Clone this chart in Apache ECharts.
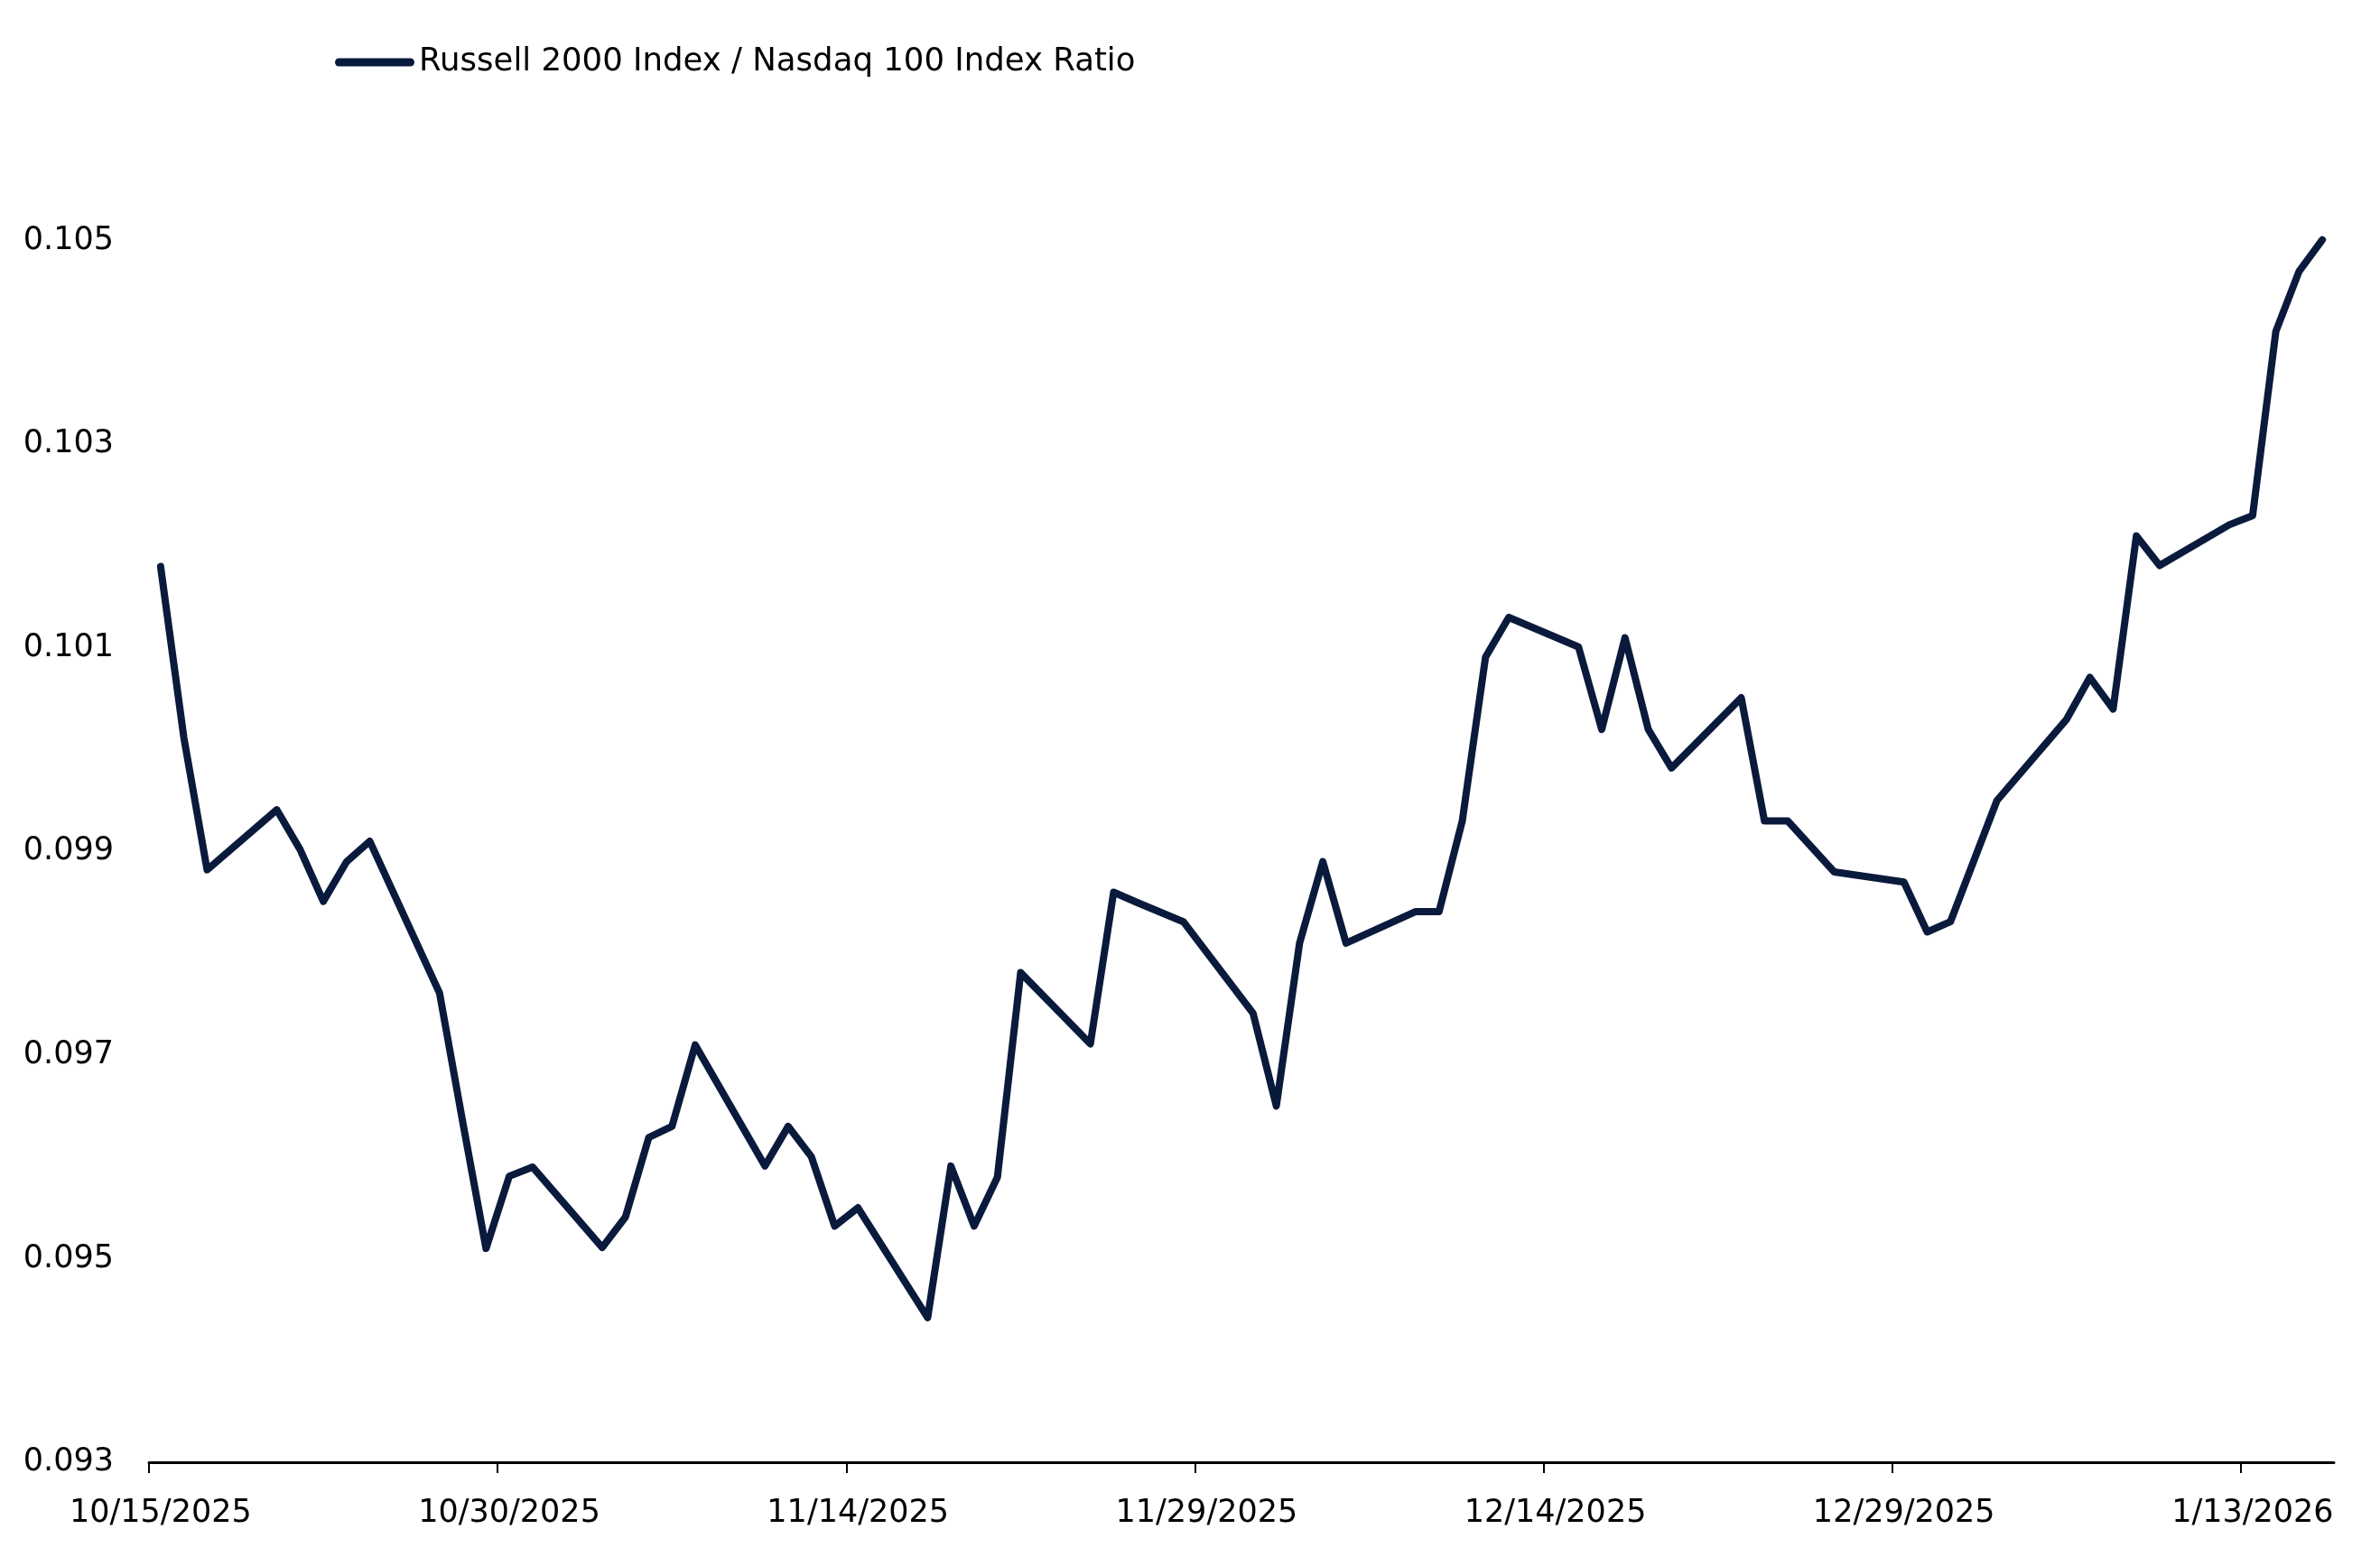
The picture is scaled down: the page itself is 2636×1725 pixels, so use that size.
<!DOCTYPE html>
<html>
<head>
<meta charset="utf-8">
<script src="https://cdn.jsdelivr.net/npm/echarts@6/dist/echarts.min.js"></script>
<style>
  html, body { margin: 0; padding: 0; background: #ffffff; }
  #chart { width: 2636px; height: 1725px; }
</style>
</head>
<body>
<div id="chart"></div>
<script>
// ---- Data ----
const seriesName = 'Russell 2000 Index / Nasdaq 100 Index Ratio';

const dates = [
  '2025-10-15','2025-10-16','2025-10-17','2025-10-20','2025-10-21','2025-10-22','2025-10-23','2025-10-24',
  '2025-10-27','2025-10-28','2025-10-29','2025-10-30','2025-10-31',
  '2025-11-03','2025-11-04','2025-11-05','2025-11-06','2025-11-07',
  '2025-11-10','2025-11-11','2025-11-12','2025-11-13','2025-11-14',
  '2025-11-17','2025-11-18','2025-11-19','2025-11-20','2025-11-21',
  '2025-11-24','2025-11-25','2025-11-26','2025-11-28',
  '2025-12-01','2025-12-02','2025-12-03','2025-12-04','2025-12-05',
  '2025-12-08','2025-12-09','2025-12-10','2025-12-11','2025-12-12',
  '2025-12-15','2025-12-16','2025-12-17','2025-12-18','2025-12-19',
  '2025-12-22','2025-12-23','2025-12-24','2025-12-26',
  '2025-12-29','2025-12-30','2025-12-31','2026-01-02',
  '2026-01-05','2026-01-06','2026-01-07','2026-01-08','2026-01-09',
  '2026-01-12','2026-01-13','2026-01-14','2026-01-15','2026-01-16'
];

const ratio = [
  0.10180, 0.10012, 0.09882, 0.09941, 0.09902, 0.09851, 0.09890, 0.09910,
  0.09761, 0.09634, 0.09510, 0.09581, 0.09590,
  0.09511, 0.09541, 0.09619, 0.09630, 0.09710,
  0.09591, 0.09630, 0.09600, 0.09532, 0.09550,
  0.09442, 0.09591, 0.09532, 0.09580, 0.09781,
  0.09711, 0.09860, 0.09850, 0.09831,
  0.09741, 0.09650, 0.09810, 0.09890, 0.09810,
  0.09841, 0.09841, 0.09930, 0.10091, 0.10130,
  0.10101, 0.10020, 0.10110, 0.10020, 0.09982,
  0.10051, 0.09930, 0.09930, 0.09880,
  0.09870, 0.09821, 0.09831, 0.09950,
  0.10030, 0.10071, 0.10040, 0.10210, 0.10181,
  0.10221, 0.10230, 0.10411, 0.10470, 0.10501
];

const xTickDates = ['2025-10-15','2025-10-30','2025-11-14','2025-11-29','2025-12-14','2025-12-29','2026-01-13'];
const xAxisStart = '2025-10-15';
const xAxisEnd = '2026-01-17';

const yTicks = [0.093, 0.095, 0.097, 0.099, 0.101, 0.103, 0.105];
const yMin = 0.093;
const yMax = 0.106;

// ---- Helpers ----
function parseDay(s, hour) {
  const p = s.split('-').map(Number);
  return new Date(p[0], p[1] - 1, p[2], hour || 0, 0, 0).getTime();
}
function fmtDate(v) {
  const d = new Date(v);
  return (d.getMonth() + 1) + '/' + d.getDate() + '/' + d.getFullYear();
}

const seriesData = dates.map((d, i) => [parseDay(d, 12), ratio[i]]);
const tickValues = xTickDates.map(d => parseDay(d, 0));
const labelValues = xTickDates.map(d => parseDay(d, 12));

const FONT = 'DejaVu Sans';
const TXT = '#000000';
const LINE = '#0a1a3c';

const chart = echarts.init(document.getElementById('chart'), null, { renderer: 'canvas' });
chart.setOption({
  animation: false,
  backgroundColor: '#ffffff',
  textStyle: { fontFamily: FONT },
  legend: {
    show: true,
    left: 366,
    top: 44,
    itemWidth: 88,
    itemHeight: 9,
    itemGap: 20,
    icon: 'path://M4.5,0 L83.5,0 A4.5,4.5 0 0 1 83.5,9 L4.5,9 A4.5,4.5 0 0 1 4.5,0 Z',
    itemStyle: { color: LINE },
    textStyle: { fontFamily: FONT, fontSize: 35.5, color: TXT, lineHeight: 40 },
    data: [seriesName]
  },
  grid: {
    left: 165,
    right: 51,
    top: 154,
    bottom: 105,
    containLabel: false
  },
  xAxis: {
    type: 'value',
    min: parseDay(xAxisStart, 0),
    max: parseDay(xAxisEnd, 0),
    axisLine: { show: true, lineStyle: { color: '#000000', width: 3 } },
    axisTick: {
      show: true,
      length: 12,
      lineStyle: { color: '#000000', width: 2 },
      customValues: tickValues
    },
    axisLabel: {
      show: true,
      customValues: labelValues,
      formatter: (v) => fmtDate(v),
      fontFamily: FONT,
      fontSize: 35,
      color: TXT,
      margin: 39
    },
    splitLine: { show: false }
  },
  yAxis: {
    type: 'value',
    min: yMin,
    max: yMax,
    axisLine: { show: false },
    axisTick: { show: false },
    splitLine: { show: false },
    axisLabel: {
      show: true,
      customValues: yTicks,
      formatter: (v) => v.toFixed(3),
      fontFamily: FONT,
      fontSize: 35,
      color: TXT,
      margin: 39
    }
  },
  series: [{
    name: seriesName,
    type: 'line',
    data: seriesData,
    symbol: 'none',
    showSymbol: false,
    clip: false,
    lineStyle: { color: LINE, width: 8, cap: 'round', join: 'round' },
    itemStyle: { color: LINE }
  }]
});
</script>
</body>
</html>
